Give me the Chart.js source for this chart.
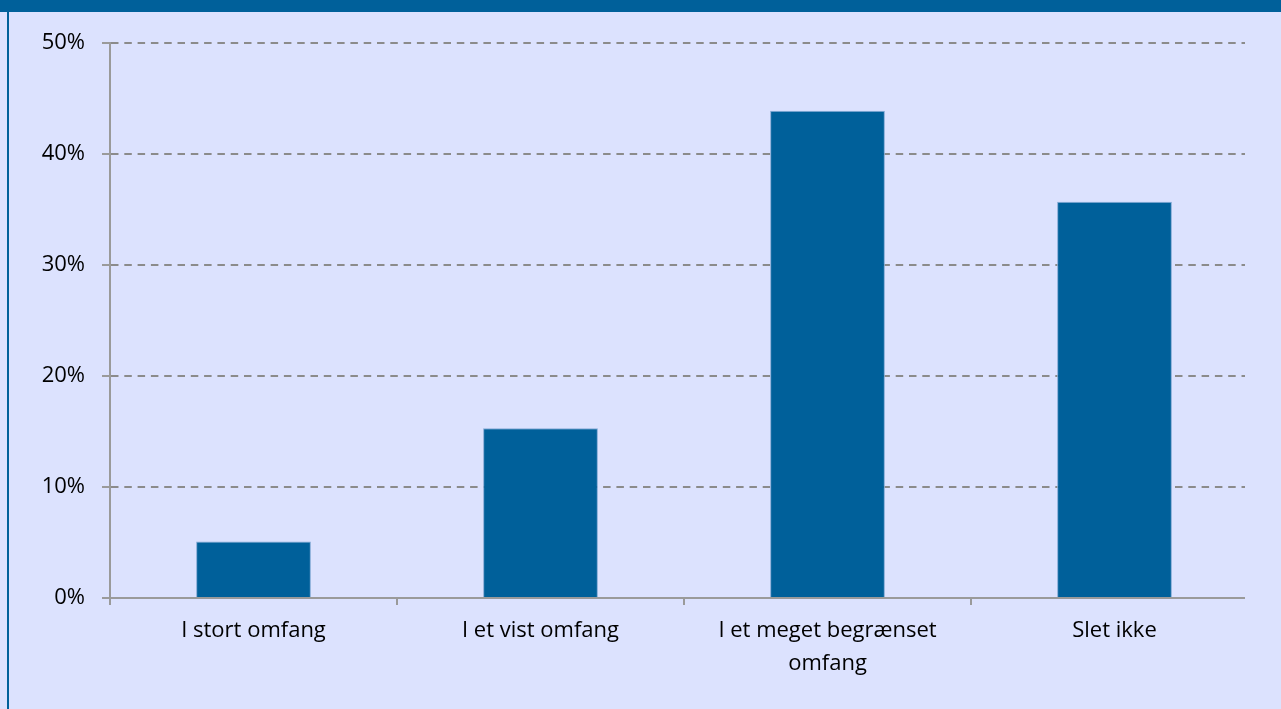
<!DOCTYPE html>
<html>
<head>
<meta charset="utf-8">
<script src="https://cdn.jsdelivr.net/npm/chart.js@4/dist/chart.umd.min.js"></script>
<style>
  html, body { margin: 0; padding: 0; }
  body { width: 1281px; height: 709px; background: #dce2fe; position: relative; overflow: hidden; }
  #band { position: absolute; left: 0; top: 0; width: 1281px; height: 12px; background: #00609a; }
  #edge { position: absolute; left: 7px; top: 12px; width: 2px; height: 697px; background: #00609a; }
  #wrap { position: absolute; left: 0; top: 0; width: 1281px; height: 709px; }
</style>
</head>
<body>
<div id="band"></div>
<div id="edge"></div>
<div id="wrap"><canvas id="c" width="1281" height="709"></canvas></div>
<script>
const categories = [["I stort omfang"], ["I et vist omfang"], ["I et meget begrænset", "omfang"], ["Slet ikke"]];
const values = [5.1, 15.3, 43.9, 35.7];
const yTicks = [0, 10, 20, 30, 40, 50];

const FONT = "'Open Sans', 'DejaVu Sans', sans-serif";
const BG = '#dce2fe';

// trims the grid / axis overhang at the right of the plot, as in the original
const trimRight = {
  id: 'trimRight',
  afterDraw(chart) {
    const a = chart.chartArea, ctx = chart.ctx;
    ctx.save();
    ctx.fillStyle = BG;
    ctx.fillRect(a.right - 13, a.top - 3, 20, a.bottom - a.top + 12);
    ctx.restore();
  }
};

new Chart(document.getElementById('c'), {
  type: 'bar',
  data: {
    labels: categories,
    datasets: [{
      data: values,
      backgroundColor: '#00609a',
      borderColor: '#86abd6',
      borderWidth: 1,
      categoryPercentage: 0.5,
      barPercentage: 0.8
    }]
  },
  plugins: [trimRight],
  options: {
    responsive: false,
    animation: false,
    devicePixelRatio: 1,
    layout: { padding: { top: 43, right: 23, bottom: 0, left: 0 } },
    plugins: { legend: { display: false }, tooltip: { enabled: false } },
    scales: {
      x: {
        afterFit: (s) => { s.height = 111; },
        grid: {
          offset: true,
          drawOnChartArea: false,
          drawTicks: true,
          tickLength: 7,
          color: '#9a9a9a',
          lineWidth: 2
        },
        border: { display: true, color: '#9a9a9a', width: 2 },
        ticks: {
          color: '#000000',
          font: { family: FONT, size: 22, lineHeight: 1.5 },
          padding: 9,
          maxRotation: 0,
          autoSkip: false
        }
      },
      y: {
        min: 0,
        max: 50,
        afterFit: (s) => { s.width = 110; },
        afterBuildTicks: (s) => { s.ticks = yTicks.map(v => ({ value: v })); },
        grid: {
          color: (ctx) => ctx.tick && ctx.tick.value === 0 ? 'rgba(0,0,0,0)' : '#8b8b8b',
          lineWidth: 2,
          drawTicks: true,
          tickLength: 8,
          tickColor: '#9a9a9a',
          tickWidth: 2,
          tickBorderDash: [1, 0]
        },
        border: { display: true, color: '#9a9a9a', width: 2, dash: [7.5, 5.8] },
        ticks: {
          color: '#000000',
          font: { family: FONT, size: 22 },
          padding: 17,
          callback: (v) => v + '%'
        }
      }
    }
  }
});
</script>
</body>
</html>
